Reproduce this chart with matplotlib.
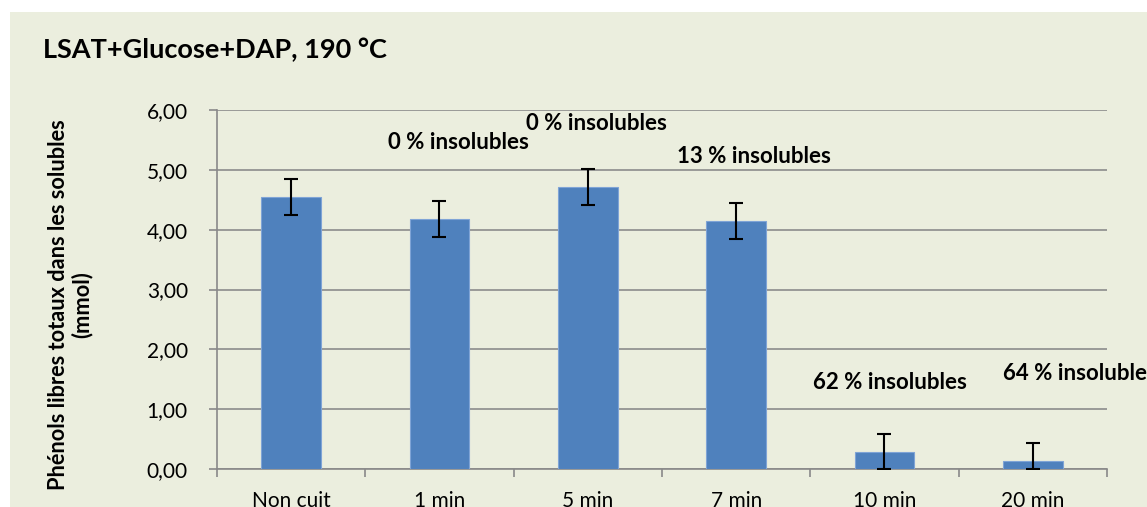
import matplotlib
matplotlib.use("Agg")
import matplotlib.pyplot as plt
from matplotlib.patches import Rectangle

categories = ["Non cuit", "1 min", "5 min", "7 min", "10 min", "20 min"]
values = [4.55, 4.18, 4.72, 4.15, 0.28, 0.13]
errors = [0.30, 0.30, 0.30, 0.30, 0.30, 0.30]
annot_texts = ["0 % insolubles", "0 % insolubles", "13 % insolubles",
               "62 % insolubles", "64 % insolubles"]
annot_x = [1.125, 2.06, 3.12, 4.04, 4.80]
annot_y = [5.45, 5.77, 5.23, 1.45, 1.59]
annot_ha = ["center", "center", "center", "center", "left"]
yticks = [0, 1, 2, 3, 4, 5, 6]

plt.rcParams['font.family'] = ['Lato', 'DejaVu Sans']

W, H = 1147, 507
fig = plt.figure(figsize=(W / 100, H / 100), dpi=100)
fig.patch.set_facecolor('white')
bg = '#EBEEDE'
fig.patches.append(Rectangle((10 / W, 0), 1 - 10 / W, (H - 12) / H,
                             transform=fig.transFigure, facecolor=bg,
                             edgecolor='none', zorder=-10))

ax = fig.add_axes([217 / W, (H - 469) / H, (1107 - 217) / W, (469 - 110) / H])
ax.set_facecolor('none')
x = list(range(len(categories)))
ax.bar(x, values, width=0.4, color='#4F81BD', edgecolor='#7FA4D6',
       linewidth=0.8, zorder=3)
lower = [min(e, v) for e, v in zip(errors, values)]
ax.errorbar(x, values, yerr=[lower, errors], fmt='none', ecolor='black',
            elinewidth=1.5, capsize=5, capthick=1.5, zorder=4)

ax.set_xlim(-0.5, len(categories) - 0.5)
ax.set_ylim(0, 6)
ax.set_yticks(yticks)
ax.set_yticklabels([f"{v:.2f}".replace('.', ',') for v in yticks], fontsize=15)
ax.yaxis.grid(True, color='#8C8C8C', linewidth=1.2, zorder=1)
ax.set_axisbelow(True)
ax.set_xticks(x)
ax.set_xticklabels(categories, fontsize=15)
ax.set_xticks([i + 0.5 for i in range(-1, len(categories))], minor=True)
ax.tick_params(axis='x', which='major', length=0, pad=16)
ax.tick_params(axis='x', which='minor', length=6, color='#898989', width=1.2)
ax.tick_params(axis='y', length=6, color='#898989', width=1.2, pad=15)
for s in ['top', 'right']:
    ax.spines[s].set_visible(False)
for s in ['left', 'bottom']:
    ax.spines[s].set_color('#898989')
    ax.spines[s].set_linewidth(1.2)

for t, xx, yy, ha in zip(annot_texts, annot_x, annot_y, annot_ha):
    ax.text(xx, yy, t, ha=ha, va='center', fontsize=16, fontweight='bold',
            clip_on=False)

fig.text(70 / W, 1 - 305 / H, "Phénols libres totaux dans les solubles\n(mmol)",
         fontsize=15.7, fontweight='bold', rotation=90, ha='center',
         va='center', multialignment='center', linespacing=1.1)

fig.text(43 / W, 1 - 50 / H, "LSAT+Glucose+DAP, 190 °C", fontsize=19.5,
         fontweight='bold', ha='left', va='center')

fig.savefig("out.png", dpi=100)
